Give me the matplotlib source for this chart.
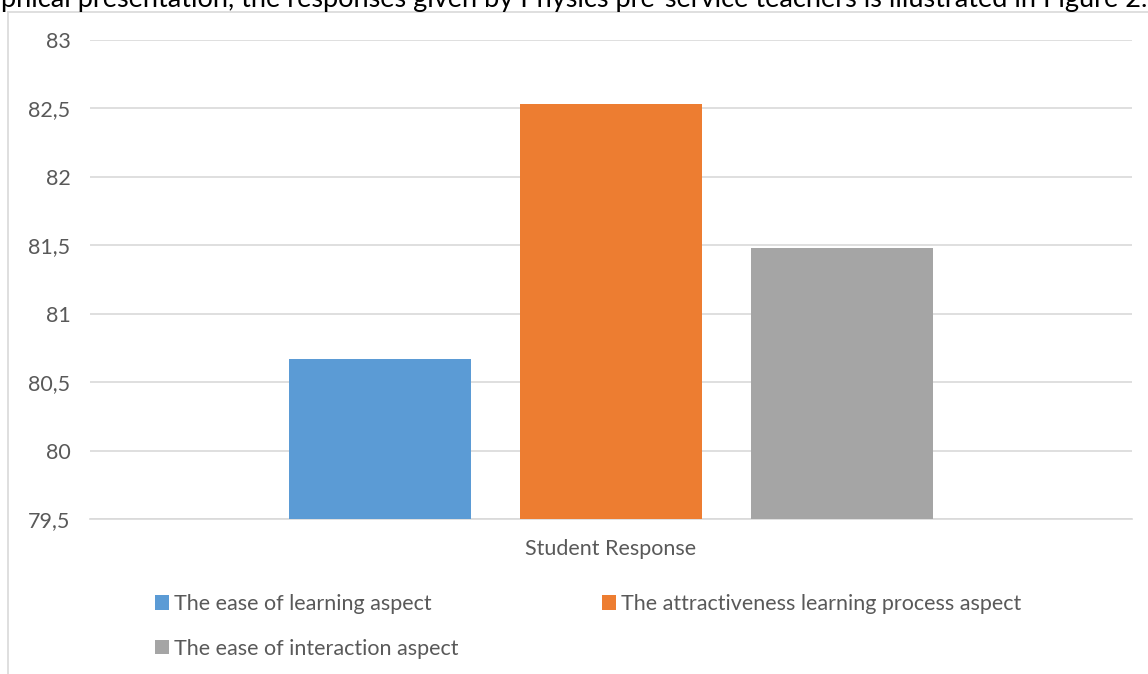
import matplotlib
matplotlib.use("Agg")
import matplotlib.pyplot as plt
from matplotlib.ticker import FuncFormatter, MultipleLocator
from matplotlib.lines import Line2D

# data
category = "Student Response"
series_names = [
    "The ease of learning aspect",
    "The attractiveness learning process aspect",
    "The ease of interaction aspect",
]
series_values = [80.67, 82.53, 81.48]
series_colors = ["#5b9bd5", "#ed7d31", "#a5a5a5"]
y_min, y_max, y_step = 79.5, 83.0, 0.5
header_text = ("phical presentation, the responses given by Physics "
               "pre-service teachers is illustrated in Figure 2.")

plt.rcParams['font.family'] = ['Lato', 'DejaVu Sans']

W, H = 1148, 674
fig = plt.figure(figsize=(W / 100, H / 100), dpi=100)

def px(x, y):
    # pixel coords (top-left origin) -> figure fraction
    return x / W, 1 - y / H

# text of the surrounding document, cut off at the top
fig.text(*px(1147, 7), header_text, ha='right', va='baseline',
         fontsize=19.5, color='black')

# chart frame (only left and top edges visible)
fig.add_artist(Line2D([8 / W, 8 / W], [0, 1 - 12 / H], transform=fig.transFigure,
                      color='#d9d9d9', lw=1.2))
fig.add_artist(Line2D([8 / W, 1], [1 - 12 / H, 1 - 12 / H], transform=fig.transFigure,
                      color='#d9d9d9', lw=1.2))

left, right, top, bottom = 90, 1132, 40, 519
ax = fig.add_axes([left / W, 1 - bottom / H, (right - left) / W, (bottom - top) / H])

bar_w = 0.1747
offset = 0.2217
handles = []
for i, (name, val, col) in enumerate(zip(series_names, series_values, series_colors)):
    xpos = (i - 1) * offset
    b = ax.bar(xpos, val - y_min, bottom=y_min, width=bar_w, color=col, label=name, zorder=3)
    handles.append(b)

ax.set_xlim(-0.5, 0.5)
ax.set_ylim(y_min, y_max)
ax.yaxis.set_major_locator(MultipleLocator(y_step))
ax.yaxis.set_major_formatter(FuncFormatter(lambda v, p: f"{v:g}".replace('.', ',')))
ax.grid(axis='y', color='#d9d9d9', lw=1.2, zorder=0)
for s in ['top', 'right', 'left']:
    ax.spines[s].set_visible(False)
ax.spines['bottom'].set_color('#d9d9d9')
ax.spines['bottom'].set_linewidth(1.2)
ax.tick_params(axis='y', length=0, pad=14, labelsize=15.5, labelcolor='#595959')
ax.set_xticks([])

fig.text(*px(611, 549), category, ha='center', va='center', fontsize=15.5, color='#595959')

# legend fills row by row like the original: reorder for column-first filling
order = [0, 2, 1]
leg = ax.legend([handles[i] for i in order], [series_names[i] for i in order],
                loc='upper left', bbox_to_anchor=(px(155, 594)), bbox_transform=fig.transFigure,
                ncol=2, frameon=False, fontsize=15.5, handlelength=0.65, handleheight=0.65,
                handletextpad=0.25, columnspacing=6.65, labelspacing=1.15, borderpad=0,
                borderaxespad=0)
for t in leg.get_texts():
    t.set_color('#595959')

fig.savefig("out.png", dpi=100)
